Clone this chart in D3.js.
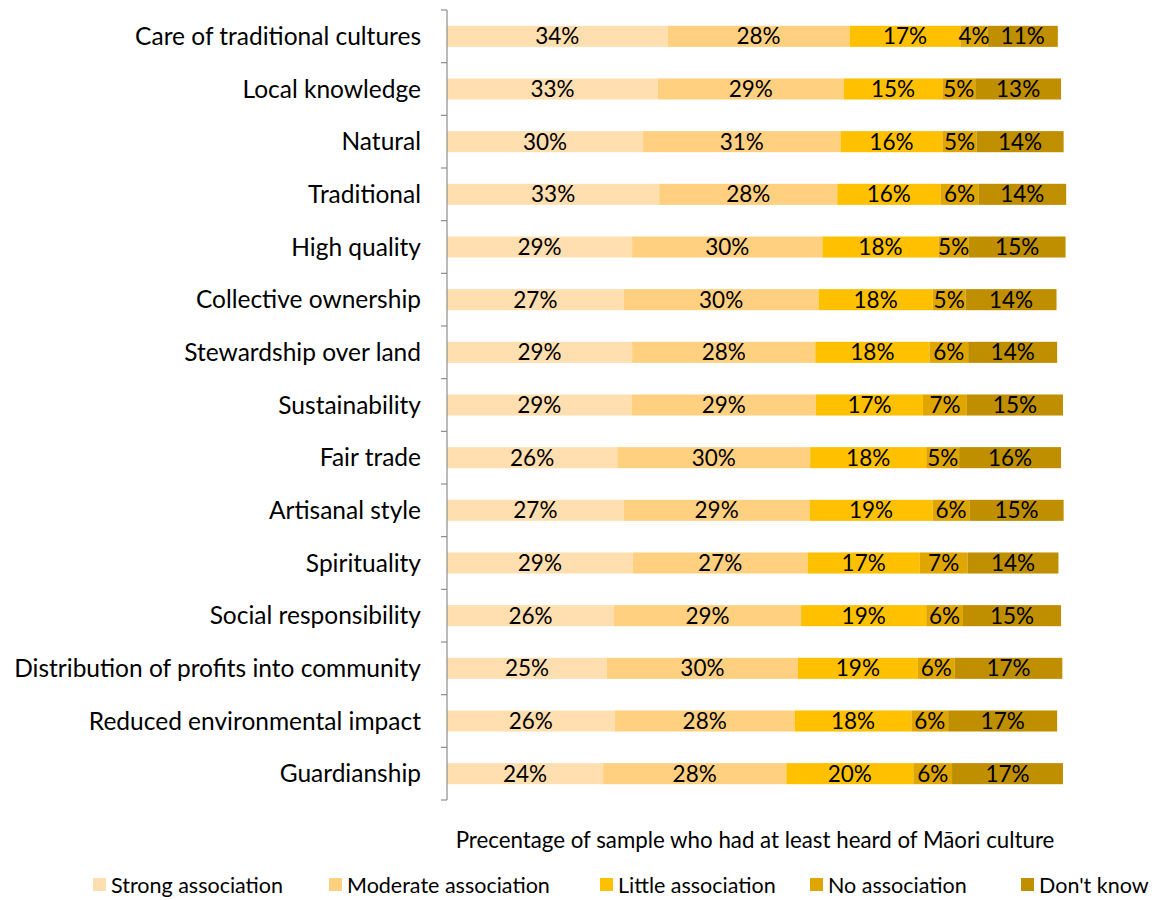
<!DOCTYPE html>
<html>
<head>
<meta charset="utf-8">
<script src="https://cdn.jsdelivr.net/npm/d3@7"></script>
<style>
  body { margin: 0; background: #fff; }
  svg text { font-family: Lato, "Noto Sans", sans-serif; fill: #000; }
</style>
</head>
<body>
<svg id="chart" width="1158" height="900"></svg>
<script>
const categories = [
  'Care of traditional cultures', 'Local knowledge', 'Natural', 'Traditional',
  'High quality', 'Collective ownership', 'Stewardship over land', 'Sustainability',
  'Fair trade', 'Artisanal style', 'Spirituality', 'Social responsibility',
  'Distribution of profits into community', 'Reduced environmental impact', 'Guardianship'
];
const strong   = [34.2, 32.7, 30.4, 32.9, 28.7, 27.4, 28.7, 28.6, 26.4, 27.4, 28.8, 25.9, 24.8, 26.0, 24.2];
const moderate = [28.2, 28.8, 30.6, 27.6, 29.5, 30.2, 28.4, 28.6, 29.9, 28.8, 27.1, 29.0, 29.6, 27.9, 28.4];
const little   = [17.2, 15.3, 15.8, 16.0, 18.0, 17.7, 17.7, 16.6, 18.0, 19.1, 17.4, 19.4, 18.6, 18.1, 19.7];
const noAssoc  = [ 4.2,  5.1,  5.3,  5.9,  4.7,  5.1,  6.0,  6.8,  5.1,  5.7,  7.4,  5.7,  5.7,  5.7,  6.0];
const dontKnow = [10.9, 13.3, 13.5, 13.6, 15.0, 14.1, 13.8, 14.9, 15.8, 14.6, 14.1, 15.2, 16.7, 16.9, 17.2];

const seriesNames = ['Strong association', 'Moderate association', 'Little association', 'No association', "Don't know"];
const seriesColors = ['#FFDEAF', '#FFD080', '#FFC000', '#DFA600', '#BF8F00'];
const axisTitle = 'Precentage of sample who had at least heard of M\u0101ori culture';

const svg = d3.select('#chart');

const rows = categories.map((c, i) => ({
  category: c,
  values: [strong[i], moderate[i], little[i], noAssoc[i], dontKnow[i]]
}));

const x = d3.scaleLinear().domain([0, 100]).range([447, 1092]);
const y = d3.scaleBand().domain(categories).range([10, 800]).paddingInner(0.6).paddingOuter(0.3);

// stacked segments
const segs = [];
rows.forEach(r => {
  let acc = 0;
  r.values.forEach((v, k) => {
    segs.push({ category: r.category, k, x0: acc, x1: acc + v, v });
    acc += v;
  });
});

const barG = svg.append('g').attr('class', 'bars');
barG.selectAll('rect')
  .data(segs)
  .join('rect')
  .attr('x', d => x(d.x0))
  .attr('y', d => y(d.category))
  .attr('width', d => x(d.x1) - x(d.x0))
  .attr('height', y.bandwidth())
  .attr('fill', d => seriesColors[d.k]);

barG.selectAll('text')
  .data(segs)
  .join('text')
  .attr('x', d => (x(d.x0) + x(d.x1)) / 2)
  .attr('y', d => y(d.category) + y.bandwidth() / 2)
  .attr('dy', '0.36em')
  .attr('text-anchor', 'middle')
  .attr('font-size', 22.5)
  .text(d => Math.round(d.v) + '%');

// y axis: line + boundary ticks
const axisG = svg.append('g').attr('class', 'y-axis');
const y0 = y.range()[0];
const step = y.step();
axisG.append('line')
  .attr('x1', x(0)).attr('x2', x(0))
  .attr('y1', y0).attr('y2', y0 + step * categories.length)
  .attr('stroke', '#8c8c8c').attr('stroke-width', 1.2);
axisG.selectAll('line.tick')
  .data(d3.range(categories.length + 1))
  .join('line')
  .attr('class', 'tick')
  .attr('x1', x(0) - 6).attr('x2', x(0))
  .attr('y1', i => y0 + i * step).attr('y2', i => y0 + i * step)
  .attr('stroke', '#8c8c8c').attr('stroke-width', 1.2);

axisG.selectAll('text')
  .data(categories)
  .join('text')
  .attr('x', 421)
  .attr('y', d => y(d) + y.bandwidth() / 2)
  .attr('dy', '0.36em')
  .attr('text-anchor', 'end')
  .attr('font-size', 24.5)
  .text(d => d);

// axis title
svg.append('text')
  .attr('x', 755)
  .attr('y', 848)
  .attr('text-anchor', 'middle')
  .attr('font-size', 22.3)
  .text(axisTitle);

// legend
const legendX = [93, 329, 600, 810, 1021];
const legend = svg.append('g').attr('class', 'legend');
const item = legend.selectAll('g')
  .data(seriesNames)
  .join('g')
  .attr('transform', (d, i) => `translate(${legendX[i]},878)`);
item.append('rect')
  .attr('width', 13).attr('height', 13)
  .attr('fill', (d, i) => seriesColors[i]);
item.append('text')
  .attr('x', 18)
  .attr('y', 7)
  .attr('dy', '0.36em')
  .attr('font-size', 21.5)
  .text(d => d);
</script>
</body>
</html>
